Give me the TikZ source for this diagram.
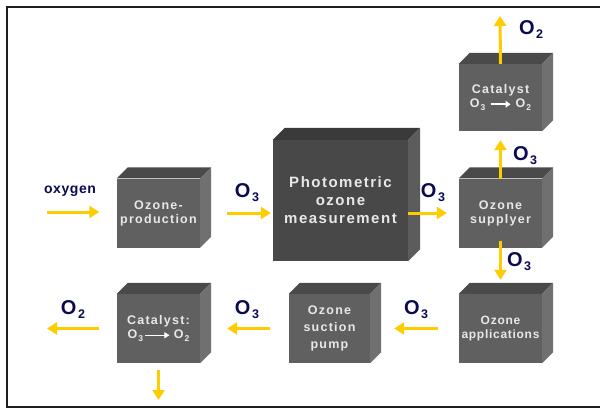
\documentclass[tikz,border=0pt]{standalone}
\usepackage{fontspec}
\setmainfont{Liberation Sans}
\newfontfamily\boxfont[LetterSpace=10]{Liberation Sans}
\newfontfamily\boxfontn[LetterSpace=6]{Liberation Sans}
\newfontfamily\labfont[LetterSpace=4]{Liberation Sans}
\usetikzlibrary{arrows.meta}
\definecolor{flowc}{RGB}{255,204,0}
\definecolor{navy}{RGB}{10,10,80}
\definecolor{frontc}{RGB}{96,96,96}
\definecolor{topc}{RGB}{74,74,74}
\definecolor{sidec}{RGB}{112,112,112}
\definecolor{pfront}{RGB}{72,72,72}
\definecolor{ptop}{RGB}{58,58,58}
\definecolor{pside}{RGB}{92,92,92}
\definecolor{txtc}{RGB}{232,232,232}
\definecolor{framec}{RGB}{30,30,30}
\newcommand\osub[2]{#1\kern1.5pt\raisebox{-4pt}{\fontsize{12.5}{12.5}\selectfont #2}}
\newcommand\smsub[2]{#1\kern1pt\raisebox{-2.5pt}{\fontsize{8.5}{8.5}\selectfont #2}}
\newcommand\cubefaces[4]{%
  \fill[#3] (#1.north west) -- ([xshift=#2pt,yshift=#2pt]#1.north west) -- ([xshift=#2pt,yshift=#2pt]#1.north east) -- (#1.north east) -- cycle;
  \fill[#4] (#1.north east) -- ([xshift=#2pt,yshift=#2pt]#1.north east) -- ([xshift=#2pt,yshift=#2pt]#1.south east) -- (#1.south east) -- cycle;}
\tikzset{
  cube/.style={fill=frontc, inner sep=0pt, text=txtc, align=center,
    minimum width=83pt, minimum height=69pt,
    font=\boxfont\bfseries\fontsize{12.5}{14}\selectfont},
  flow/.style={draw=flowc, line width=3pt, -{Triangle[length=10pt,width=12pt]}},
  lab/.style={text=navy, inner sep=0pt, font=\bfseries\fontsize{20}{20}\selectfont},
}
\begin{document}
\begin{tikzpicture}[x=1pt,y=-1pt]
\useasboundingbox (0,0) rectangle (600,410);
\fill[white] (0,0) rectangle (600,410);
\draw[framec, line width=1.3pt] (600,7) -- (7,7) -- (7,407) -- (600,407);

% boxes
\node[cube] (prod) at (158.5,213) {Ozone-\\production};
\cubefaces{prod}{11}{topc}{sidec}
\node[cube, fill=pfront, minimum width=135pt, minimum height=121pt,
  font=\boxfont\bfseries\fontsize{15}{18}\selectfont] (photo) at (340.5,200.5) {Photometric\\ozone\\measurement};
\cubefaces{photo}{12}{ptop}{pside}
\node[cube, minimum height=67pt] (cat1) at (500.5,97.5) {Catalyst\\[0pt]\smsub{O}{3}\,\,\tikz[baseline=-3.5pt]\draw[white,line width=2pt,-{Triangle[length=5pt,width=7pt]}] (0pt,0pt) -- (20pt,0pt);\,\,\smsub{O}{2}};
\cubefaces{cat1}{11}{topc}{sidec}
\node[cube] (sup) at (500.5,213) {Ozone\\supplyer};
\cubefaces{sup}{11}{topc}{sidec}
\node[cube, font=\boxfontn\bfseries\fontsize{12}{14}\selectfont] (app) at (500.5,328.5) {Ozone\\applications};
\cubefaces{app}{11}{topc}{sidec}
\node[cube, minimum width=81pt, font=\boxfont\bfseries\fontsize{12.5}{17}\selectfont] (pump) at (329.5,328.5) {Ozone\\suction\\pump};
\cubefaces{pump}{11}{topc}{sidec}
\node[cube] (cat2) at (158.5,328.5) {Catalyst:\\[0pt]\smsub{O}{3}\,\tikz[baseline=-3.5pt]\draw[white,line width=0.6pt,-{Triangle[length=5pt,width=6pt]}] (0pt,0pt) -- (24pt,0pt);\,\,\smsub{O}{2}};
\cubefaces{cat2}{11}{topc}{sidec}

% free ends
\coordinate (oxin) at (47,212);
\coordinate (o2top) at (500,16);
\coordinate (o2left) at (47,327);
\coordinate (down) at (158,400);

% connectors
\draw[flow, shorten >=17.5pt] (oxin) -- (oxin -| prod.west);
\draw[flow, shorten <=27pt, shorten >=2pt] (prod.east) -- (prod.east -| photo.west);
\draw[flow, shorten >=12pt] (photo.east |- sup.west) -- (sup.west);
\draw[flow, shorten <=-1pt, shorten >=9pt] (sup.north) -- (cat1.south);
\draw[flow] (cat1.north) -- (o2top);
\draw[flow, shorten <=-7pt, shorten >=14pt] (sup.south) -- (app.north);
\draw[flow, shorten <=21pt, shorten >=24pt] (app.west) -- (pump.east);
\draw[flow, shorten <=19pt, shorten >=27pt] (pump.west) -- (cat2.east);
\draw[flow, shorten <=17.5pt] (cat2.west) -- (cat2.west -| o2left);
\draw[flow, shorten <=7pt] (cat2.south) -- (cat2.south |- down);

% labels
\node[text=navy, inner sep=0pt, font=\labfont\bfseries\fontsize{14}{14}\selectfont] (oxl) at (70,191) {oxygen};
\node[lab] (l1) at (247,193) {\osub{O}{3}};
\node[lab] (l2) at (433,193) {\osub{O}{3}};
\node[lab] (l3) at (525,156) {\osub{O}{3}};
\node[lab] (l4) at (531,30) {\osub{O}{2}};
\node[lab] (l5) at (519,262) {\osub{O}{3}};
\node[lab] (l6) at (416,310) {\osub{O}{3}};
\node[lab] (l7) at (247,310) {\osub{O}{3}};
\node[lab] (l8) at (73,310) {\osub{O}{2}};
\end{tikzpicture}
\end{document}
